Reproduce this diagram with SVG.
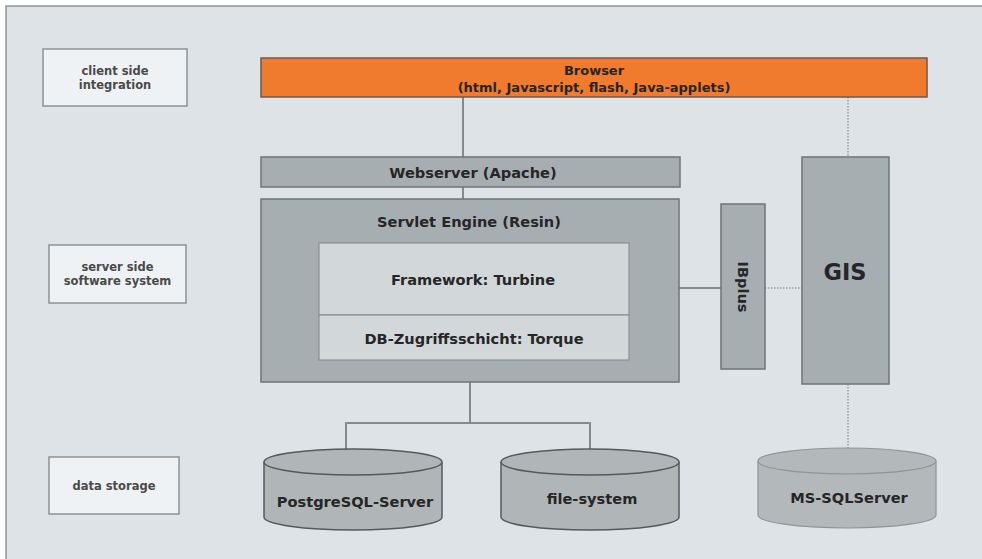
<svg xmlns="http://www.w3.org/2000/svg" width="982" height="559" viewBox="0 0 982 559">
<style>
text{font-family:"DejaVu Sans","Liberation Sans",sans-serif;font-weight:bold;text-anchor:middle;fill:#262626}
.lbl rect{fill:#eef2f4;stroke:#8e9294;stroke-width:1.5}
.lbl text{font-size:11.5px;fill:#4a4a4a}
.box{fill:#a7aeb1;stroke:#6f7476;stroke-width:1.5}
.inner{fill:#d2d8da;stroke:#8a8f91;stroke-width:1.2}
.cyl{fill:#b0b6b8;stroke:#55595b;stroke-width:1.5}
.cyl2{fill:#b3b9bb;stroke:#8f9496;stroke-width:1.2}
.solid{stroke:#858a8c;stroke-width:2;fill:none}
.dot{stroke:#9a9ea0;stroke-width:1.5;fill:none;stroke-dasharray:1.5 1.5}
.t{font-size:14.6px}
</style>
<rect x="0" y="0" width="982" height="559" fill="#ffffff"/>
<rect x="6" y="6" width="980" height="560" fill="#dde3e6" stroke="#8f9496" stroke-width="1.5"/>

<g id="lbl-client" class="lbl">
<rect x="43" y="49" width="144" height="57"/>
<text x="115" y="75">client side</text>
<text x="115" y="89">integration</text>
</g>
<g id="lbl-server" class="lbl">
<rect x="49" y="245" width="137" height="58"/>
<text x="117.5" y="271">server side</text>
<text x="117.5" y="285">software system</text>
</g>
<g id="lbl-data" class="lbl">
<rect x="49" y="457" width="130" height="57"/>
<text x="114" y="490">data storage</text>
</g>

<g id="connectors">
<path class="solid" d="M463 97 V157 M463 187 V199"/>
<path class="solid" d="M470 382 V423 M346 455 V423 H590 V460"/>
<path class="solid" d="M679 288 H721"/>
<path class="dot" d="M765 288 H802"/>
<path class="dot" d="M848 97 V157"/>
<path class="dot" d="M848 384 V456"/>
</g>

<g id="browser">
<rect x="261" y="58" width="666" height="39" fill="#f07a2e" stroke="#6e5a4e" stroke-width="1.5"/>
<text x="594" y="75" font-size="13">Browser</text>
<text x="594" y="92" font-size="13">(html, Javascript, flash, Java-applets)</text>
</g>

<g id="webserver">
<rect class="box" x="261" y="157" width="419" height="30"/>
<text class="t" x="473" y="178">Webserver (Apache)</text>
</g>

<g id="servlet">
<rect class="box" x="261" y="199" width="418" height="183"/>
<text class="t" x="469" y="227">Servlet Engine (Resin)</text>
</g>
<g id="framework">
<rect class="inner" x="319" y="243" width="310" height="72"/>
<text class="t" x="473" y="285">Framework: Turbine</text>
</g>
<g id="db-layer">
<rect class="inner" x="319" y="315" width="310" height="45"/>
<text class="t" x="474" y="344">DB-Zugriffsschicht: Torque</text>
</g>

<g id="ibplus">
<rect class="box" x="721" y="204" width="44" height="165"/>
<text class="t" x="743" y="287" transform="rotate(90 743 287)" dy="5">IBplus</text>
</g>

<g id="gis">
<rect class="box" x="802" y="157" width="87" height="227" stroke="#8f9496"/>
<text x="845" y="280" font-size="22.5">GIS</text>
</g>

<g id="postgres">
<path class="cyl" d="M264 462 V517 A89 13 0 0 0 442 517 V462"/>
<ellipse class="cyl" cx="353" cy="462" rx="89" ry="13"/>
<text class="t" x="355" y="507">PostgreSQL-Server</text>
</g>
<g id="filesystem">
<path class="cyl" d="M501 462 V517 A89 13 0 0 0 679 517 V462"/>
<ellipse class="cyl" cx="590" cy="462" rx="89" ry="13"/>
<text class="t" x="592" y="504">file-system</text>
</g>
<g id="mssql">
<path class="cyl2" d="M758 461 V515 A89 13 0 0 0 936 515 V461"/>
<ellipse class="cyl2" cx="847" cy="461" rx="89" ry="13"/>
<text class="t" x="849" y="503">MS-SQLServer</text>
</g>
</svg>
